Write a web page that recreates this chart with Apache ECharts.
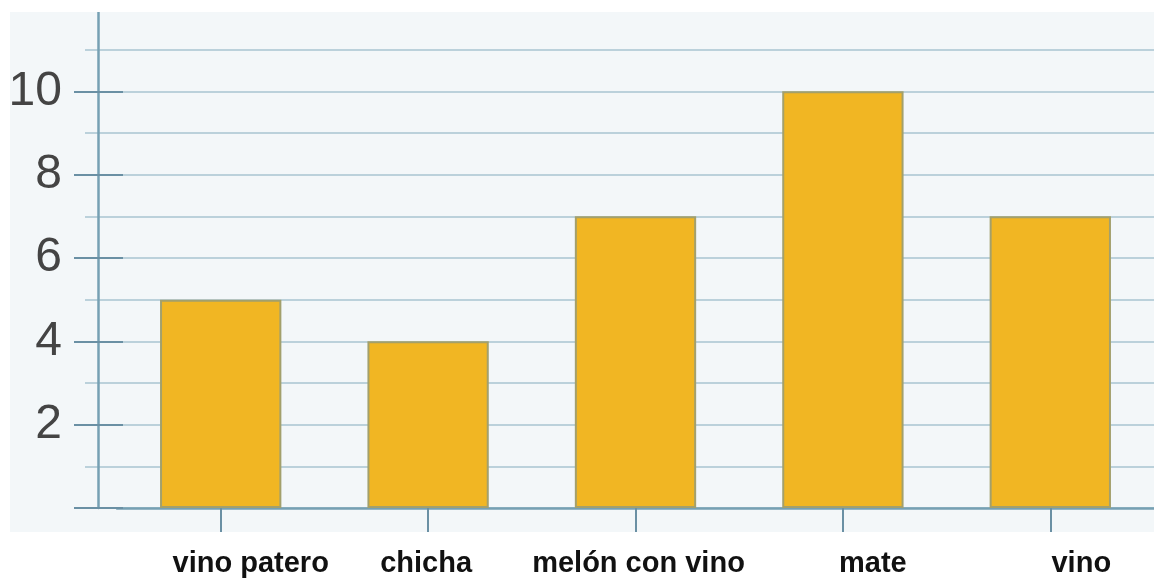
<!DOCTYPE html>
<html>
<head>
<meta charset="utf-8">
<script src="https://cdn.jsdelivr.net/npm/echarts@6/dist/echarts.min.js"></script>
<style>
html,body{margin:0;padding:0;background:#fff;}
#c{width:1154px;height:580px;}
</style>
</head>
<body>
<div id="c"></div>
<script>
// ---- data ----
const categories = ['vino patero', 'chicha', 'melón con vino', 'mate', 'vino'];
const values = [5, 4, 7, 10, 7];
const yTickValues = [2, 4, 6, 8, 10];

// ---- style ----
const labelShift = [30, -2, 3, 30, 31]; // horizontal nudge of each category label (px)
const gridLineColor = '#a9c4d0';
const axisColor = '#76a0b3';
const tickColor = '#6a90a4';

const rich = {};
labelShift.forEach((d, i) => {
  rich['l' + i] = {
    fontFamily: 'Liberation Sans, Arial, sans-serif',
    fontWeight: 'bold',
    fontSize: 29,
    color: '#111',
    padding: d >= 0 ? [0, 0, 0, 2 * d] : [0, -2 * d, 0, 0]
  };
});

const chart = echarts.init(document.getElementById('c'), null, {renderer: 'canvas'});
chart.setOption({
  backgroundColor: '#ffffff',
  animation: false,
  graphic: [
    { type: 'rect', z: -10, silent: true, shape: {x: 10, y: 12, width: 1144, height: 520}, style: {fill: '#f3f7f9'} },
    { type: 'rect', z: 100, silent: true, shape: {x: 0, y: 0, width: 1154, height: 12}, style: {fill: '#ffffff'} }
  ],
  grid: [
    { left: 117, width: 1044, top: 8, bottom: 72 },
    { left: 85, right: 0, top: 8, bottom: 72 }
  ],
  xAxis: [
    {
      type: 'category', gridIndex: 0, data: categories,
      axisLine: { show: true, lineStyle: { color: axisColor, width: 2.5 } },
      axisTick: { show: true, alignWithLabel: true, length: 24, lineStyle: { color: tickColor, width: 2 } },
      axisLabel: {
        margin: 41, interval: 0,
        formatter: (v, i) => '{l' + i + '|' + v + '}',
        rich: rich
      },
      splitLine: { show: false }
    },
    { type: 'value', gridIndex: 1, show: false, min: 0, max: 1 }
  ],
  yAxis: [
    {
      type: 'value', gridIndex: 0, position: 'left', offset: 19,
      min: 0, max: 12, interval: 2,
      axisLine: { show: true, lineStyle: { color: axisColor, width: 2.5 } },
      axisTick: { show: true, length: 24, lineStyle: { color: tickColor, width: 2 } },
      axisLabel: {
        margin: 36, fontSize: 48, color: '#444444',
        fontFamily: 'Liberation Sans, Arial, sans-serif',
        formatter: v => yTickValues.includes(v) ? String(v) : ''
      },
      splitLine: { show: false }
    },
    {
      type: 'value', gridIndex: 0, position: 'left', offset: 19,
      min: 0, max: 12, interval: 2,
      axisLine: { show: false },
      axisTick: { show: true, inside: true, length: 25, lineStyle: { color: tickColor, width: 2 } },
      axisLabel: { show: false },
      splitLine: { show: false }
    },
    {
      type: 'value', gridIndex: 1, min: 0, max: 12, interval: 1,
      axisLine: { show: false }, axisTick: { show: false }, axisLabel: { show: false },
      splitLine: { show: true, lineStyle: { color: gridLineColor, width: 1.5 } }
    }
  ],
  series: [{
    type: 'bar',
    xAxisIndex: 0, yAxisIndex: 0,
    data: values,
    barWidth: '58.5%',
    itemStyle: { color: '#f1b623', borderColor: '#a3a06c', borderWidth: 2 },
    z: 5
  }]
});
</script>
</body>
</html>
